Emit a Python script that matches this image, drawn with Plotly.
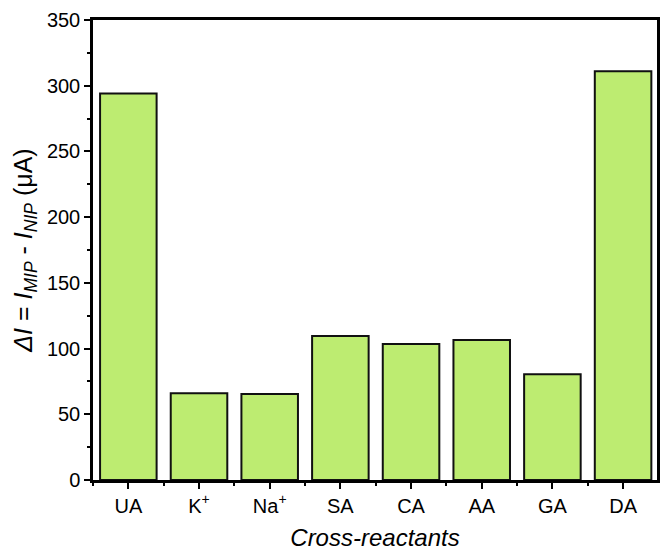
import plotly.graph_objects as go

categories = ["UA", "K<sup>+</sup>", "Na<sup>+</sup>", "SA", "CA", "AA", "GA", "DA"]
delta_i = [294, 66, 65.5, 109.5, 103.5, 106.5, 80.5, 311]

FONT = "Arial, Liberation Sans, sans-serif"

fig = go.Figure()
fig.add_trace(go.Bar(
    x=list(range(len(categories))),
    y=delta_i,
    width=0.8,
    marker=dict(color="#BDEC71", line=dict(color="#111111", width=2)),
))

tick_font = dict(family=FONT, size=20, color="black")

fig.update_layout(
    width=660, height=551,
    margin=dict(l=93, r=0, t=20, b=71),
    plot_bgcolor="white", paper_bgcolor="white",
    showlegend=False,
    font=tick_font,
)
fig.update_xaxes(
    range=[-0.5, 7.48],
    tickmode="array",
    tickvals=list(range(len(categories))),
    ticktext=categories,
    ticks="outside", ticklen=6, tickwidth=2, tickcolor="black",
    minor=dict(tickmode="array", tickvals=[i + 0.5 for i in range(-1, 8)],
               ticks="outside", ticklen=3, tickwidth=2, tickcolor="black"),
    showline=True, linewidth=2.5, linecolor="black", mirror=True,
    showgrid=False, zeroline=False,
    tickfont=tick_font,
    title=dict(text="<i>Cross-reactants</i>", font=dict(family=FONT, size=24, color="black"), standoff=15),
)
fig.update_yaxes(
    range=[0, 350],
    tickmode="linear", tick0=0, dtick=50,
    ticks="outside", ticklen=6, tickwidth=2, tickcolor="black",
    minor=dict(dtick=25, ticks="outside", ticklen=3, tickwidth=2, tickcolor="black"),
    showline=True, linewidth=2.5, linecolor="black", mirror=True,
    showgrid=False, zeroline=False,
    tickfont=tick_font,
    title=dict(text="<i>ΔI</i> = <i>I</i><sub><i>MIP</i></sub> - <i>I</i><sub><i>NIP</i></sub> (μA)",
               font=dict(family=FONT, size=25, color="black"), standoff=8),
)

fig.write_html("out.html")
